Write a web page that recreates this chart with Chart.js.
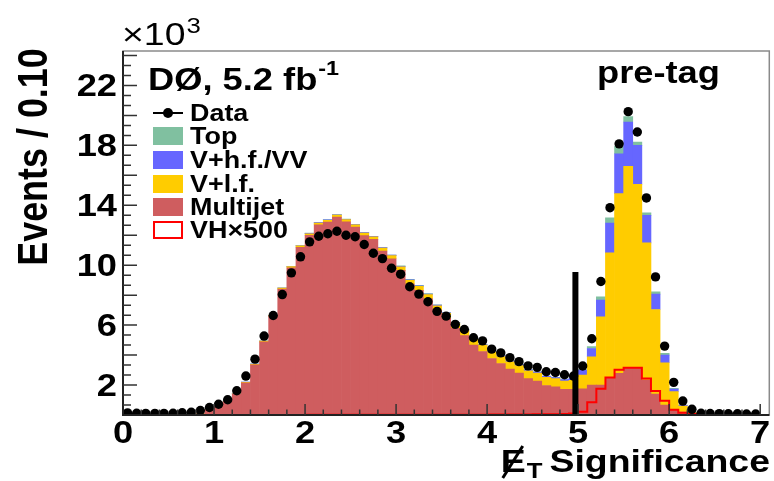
<!DOCTYPE html>
<html>
<head>
<meta charset="utf-8">
<script src="https://cdn.jsdelivr.net/npm/chart.js@4"></script>
<style>
  body { margin: 0; background: #fff; }
  #wrap { width: 774px; height: 481px; }
</style>
</head>
<body>
<div id="wrap"><canvas id="grafica" width="774" height="481"></canvas></div>
<script>
// bins de 0.1 entre 0 y 7 (70 bins), eventos en miles
var binWidth = 0.1;
var nBins = 70;

var data = [0.14, 0.12, 0.11, 0.11, 0.11, 0.12, 0.15, 0.18, 0.3, 0.5,
  0.72, 1.02, 1.62, 2.6, 3.73, 5.27, 6.64, 8.04, 9.49, 10.56,
  11.56, 11.93, 12.1, 12.27, 12.0, 11.9, 11.38, 10.8, 10.44, 9.8,
  9.4, 8.56, 8.07, 7.56, 6.92, 6.6, 6.05, 5.71, 5.16, 4.95,
  4.4, 4.15, 3.83, 3.56, 3.28, 3.18, 2.89, 2.84, 2.69, 2.6,
  3.27, 5.09, 8.91, 13.84, 18.1, 20.25, 18.89, 14.49, 9.22, 4.6,
  2.18, 0.93, 0.38, 0.12, 0.1, 0.09, 0.08, 0.08, 0.07, 0.07];

var multijet = [0, 0, 0, 0, 0, 0, 0.01, 0.03, 0.08, 0.33,
  0.56, 0.9, 1.39, 2.15, 3.35, 4.88, 6.58, 8.4, 9.82, 11.2,
  12.0, 12.7, 12.88, 13.21, 12.9, 12.54, 11.98, 11.72, 10.95, 10.43,
  9.66, 8.74, 8.32, 7.75, 6.98, 6.45, 5.78, 5.3, 4.67, 4.24,
  3.77, 3.44, 3.07, 2.8, 2.43, 2.27, 1.97, 1.88, 1.71, 1.72,
  1.75, 2.0, 2.0, 2.44, 2.78, 3.11, 3.18, 2.33, 1.4, 0.67,
  0.38, 0.2, 0.08, 0.03, 0.01, 0.01, 0.01, 0.01, 0.01, 0.01];

var vlf = [0, 0, 0, 0, 0, 0, 0, 0, 0.01, 0.01,
  0.02, 0.02, 0.03, 0.03, 0.04, 0.05, 0.06, 0.07, 0.08, 0.09,
  0.1, 0.11, 0.12, 0.13, 0.14, 0.15, 0.16, 0.17, 0.19, 0.21,
  0.23, 0.25, 0.27, 0.29, 0.31, 0.33, 0.35, 0.37, 0.39, 0.42,
  0.44, 0.46, 0.48, 0.5, 0.52, 0.53, 0.54, 0.55, 0.56, 0.6,
  0.92, 1.89, 4.56, 8.38, 12.0, 13.49, 12.22, 9.16, 5.64, 2.82,
  1.18, 0.4, 0.08, 0.03, 0.01, 0.01, 0.01, 0.01, 0.01, 0.01];

var vhf = [0, 0, 0, 0, 0, 0, 0, 0, 0, 0,
  0.01, 0.01, 0.01, 0.01, 0.01, 0.01, 0.01, 0.01, 0.01, 0.01,
  0.03, 0.03, 0.03, 0.03, 0.03, 0.03, 0.03, 0.03, 0.03, 0.03,
  0.04, 0.04, 0.04, 0.04, 0.04, 0.04, 0.04, 0.04, 0.04, 0.04,
  0.06, 0.06, 0.06, 0.06, 0.06, 0.07, 0.07, 0.07, 0.1, 0.14,
  0.33, 0.55, 1.11, 2.0, 2.66, 2.96, 2.6, 1.84, 1.03, 0.51,
  0.17, 0.05, 0.02, 0, 0, 0, 0, 0, 0, 0];

var top_ = [0, 0, 0, 0, 0, 0, 0, 0, 0, 0,
  0.01, 0.01, 0.01, 0.01, 0.01, 0.01, 0.01, 0.01, 0.01, 0.01,
  0.01, 0.01, 0.01, 0.01, 0.01, 0.01, 0.01, 0.01, 0.01, 0.01,
  0.02, 0.02, 0.02, 0.02, 0.02, 0.02, 0.02, 0.02, 0.02, 0.02,
  0.02, 0.02, 0.02, 0.02, 0.02, 0.02, 0.02, 0.02, 0.02, 0.02,
  0.03, 0.12, 0.22, 0.34, 0.49, 0.37, 0.22, 0.16, 0.15, 0.11,
  0.05, 0.02, 0, 0, 0, 0, 0, 0, 0, 0];

var vh500 = [0, 0, 0, 0, 0, 0, 0, 0, 0, 0,
  0, 0, 0, 0, 0, 0, 0, 0, 0, 0,
  0.01, 0.01, 0.01, 0.01, 0.01, 0.01, 0.01, 0.01, 0.01, 0.01,
  0.02, 0.02, 0.02, 0.02, 0.02, 0.02, 0.02, 0.02, 0.02, 0.02,
  0.03, 0.03, 0.03, 0.03, 0.03, 0.05, 0.05, 0.05, 0.07, 0.1,
  0.22, 0.85, 1.75, 2.5, 3.02, 3.15, 3.15, 2.44, 1.6, 0.95,
  0.35, 0.15, 0.06, 0.02, 0, 0, 0, 0, 0, 0];

var xTickLabels = ["0", "1", "2", "3", "4", "5", "6", "7"];
var yTickLabels = [2, 6, 10, 14, 18, 22];
var corte = 4.97; // linea de corte
var corteAlto = 9.55;

var FUENTE = '"Liberation Sans", Arial, Helvetica, sans-serif';

function binCentro(i) { return (i + 0.5) * binWidth; }

function puntos(arr) {
  var out = [];
  for (var i = 0; i < arr.length; i++) out.push({ x: binCentro(i), y: arr[i] });
  return out;
}

// contorno de histograma para VH x500
function contorno(arr) {
  var out = [];
  for (var i = 0; i < arr.length; i++) {
    out.push({ x: i * binWidth, y: arr[i] });
    out.push({ x: (i + 1) * binWidth, y: arr[i] });
  }
  out.push({ x: 7.1, y: 0 });
  return out;
}

function texto(ctx, str, x, y, font, align, sx) {
  ctx.save();
  ctx.translate(x, y);
  ctx.scale(sx || 1, 1);
  ctx.font = font;
  ctx.textAlign = align || "left";
  ctx.textBaseline = "alphabetic";
  ctx.fillStyle = "#000";
  ctx.fillText(str, 0, 0);
  ctx.restore();
}

function ancho(ctx, str, font, sx) {
  ctx.save();
  ctx.font = font;
  var w = ctx.measureText(str).width * (sx || 1);
  ctx.restore();
  return w;
}

var decoracion = {
  id: "decoracion",
  afterDraw: function (chart) {
    var ctx = chart.ctx;
    var xs = chart.scales.x;
    var ys = chart.scales.y;
    var a = chart.chartArea;
    var SX = 1.17;

    // marco
    ctx.save();
    ctx.strokeStyle = "#8a8a8a";
    ctx.lineWidth = 1.5;
    ctx.strokeRect(a.left, a.top, a.right - a.left, a.bottom - a.top);
    ctx.strokeStyle = "#222";
    ctx.lineWidth = 2;
    ctx.beginPath();
    ctx.moveTo(a.left, a.top);
    ctx.lineTo(a.left, a.bottom);
    ctx.lineTo(a.right, a.bottom);
    ctx.stroke();

    // ticks eje x
    ctx.lineWidth = 1.5;
    ctx.strokeStyle = "#333";
    ctx.beginPath();
    for (var k = 1; k <= 35; k++) {
      var px = xs.getPixelForValue(k * 0.2);
      var len = (k % 5 === 0) ? 11 : 5.5;
      ctx.moveTo(px, a.bottom);
      ctx.lineTo(px, a.bottom - len);
    }
    // ticks eje y
    for (var j = 1; j <= 36; j++) {
      var py = ys.getPixelForValue(j * 2 / 3);
      var l = (j % 3 === 0) ? 14 : 8;
      ctx.moveTo(a.left, py);
      ctx.lineTo(a.left + l, py);
    }
    ctx.stroke();
    ctx.restore();

    var fTick = "bold 31px " + FUENTE;
    for (var t = 0; t < xTickLabels.length; t++) {
      texto(ctx, xTickLabels[t], xs.getPixelForValue(parseFloat(xTickLabels[t])), 443, fTick, "center", SX);
    }
    for (var s = 0; s < yTickLabels.length; s++) {
      texto(ctx, String(yTickLabels[s]), 117, ys.getPixelForValue(yTickLabels[s]) + 11, fTick, "right", SX);
    }

    // x10^3
    texto(ctx, "\u00d710", 122, 45, "32px " + FUENTE, "left", SX);
    var w10 = ancho(ctx, "\u00d710", "32px " + FUENTE, SX);
    texto(ctx, "3", 122 + w10 + 1, 33, "22px " + FUENTE, "left", SX);

    // titulo eje y
    ctx.save();
    ctx.translate(47, 157);
    ctx.rotate(-Math.PI / 2);
    ctx.scale(0.855, 1);
    ctx.font = "bold 42px " + FUENTE;
    ctx.textAlign = "center";
    ctx.fillStyle = "#000";
    ctx.fillText("Events / 0.10", 0, 0);
    ctx.restore();

    // titulo eje x
    var fTit = "bold 32px " + FUENTE;
    var wSig = ancho(ctx, "Significance", fTit, SX);
    var xSig = 770 - wSig;
    texto(ctx, "Significance", xSig, 472, fTit, "left", SX);
    var fSub = "bold 22px " + FUENTE;
    var wT = ancho(ctx, "T", fSub, SX);
    texto(ctx, "T", xSig - 7 - wT, 478, fSub, "left", SX);
    var wE = ancho(ctx, "E", fTit, SX);
    var xE = xSig - 7 - wT - wE - 1;
    texto(ctx, "E", xE, 472, fTit, "left", SX);
    ctx.save();
    ctx.strokeStyle = "#000";
    ctx.lineWidth = 3;
    ctx.beginPath();
    ctx.moveTo(xE + 2, 478);
    ctx.lineTo(xE + wE - 3, 446);
    ctx.stroke();
    ctx.restore();

    // textos del experimento
    var fBig = "bold 31px " + FUENTE;
    texto(ctx, "D\u00d8, 5.2 fb", 148, 90, fBig, "left", SX);
    var wD = ancho(ctx, "D\u00d8, 5.2 fb", fBig, SX);
    texto(ctx, "-1", 148 + wD + 1, 75, "bold 20px " + FUENTE, "left", SX);
    texto(ctx, "pre-tag", 597, 83, fBig, "left", SX);

    // leyenda
    var fLeg = "bold 23px " + FUENTE;
    var filas = [
      { txt: "Data", y: 113, tipo: "data" },
      { txt: "Top", y: 136, color: "#80c0a0" },
      { txt: "V+h.f./VV", y: 160, color: "#6666ff" },
      { txt: "V+l.f.", y: 184, color: "#ffcc00" },
      { txt: "Multijet", y: 207, color: "#cf5d5f" },
      { txt: "VH\u00d7500", y: 230, tipo: "linea" }
    ];
    ctx.save();
    filas.forEach(function (f) {
      if (f.tipo === "data") {
        ctx.strokeStyle = "#000";
        ctx.lineWidth = 2;
        ctx.beginPath();
        ctx.moveTo(153, f.y);
        ctx.lineTo(183, f.y);
        ctx.stroke();
        ctx.fillStyle = "#000";
        ctx.beginPath();
        ctx.arc(168, f.y, 5, 0, Math.PI * 2);
        ctx.fill();
      } else if (f.tipo === "linea") {
        ctx.fillStyle = "#fff";
        ctx.fillRect(154, f.y - 8, 28, 16);
        ctx.strokeStyle = "#ff0000";
        ctx.lineWidth = 2;
        ctx.strokeRect(154, f.y - 8, 28, 16);
      } else {
        ctx.fillStyle = f.color;
        ctx.fillRect(153, f.y - 9, 30, 18);
      }
      texto(ctx, f.txt, 190, f.y + 8, fLeg, "left", SX);
    });
    ctx.restore();
  }
};

var barra = function (label, arr, color) {
  return {
    type: "bar",
    label: label,
    data: puntos(arr),
    backgroundColor: color,
    borderWidth: 0,
    barPercentage: 1.0,
    categoryPercentage: 1.0,
    order: 10
  };
};

var ctx = document.getElementById("grafica").getContext("2d");
var myChart = new Chart(ctx, {
  type: "bar",
  data: {
    datasets: [
      barra("Multijet", multijet, "#cf5d5f"),
      barra("V+l.f.", vlf, "#ffcc00"),
      barra("V+h.f./VV", vhf, "#6666ff"),
      barra("Top", top_, "#80c0a0"),
      {
        type: "line",
        label: "VHx500",
        data: contorno(vh500),
        borderColor: "#ff0000",
        borderWidth: 2,
        pointRadius: 0,
        fill: false,
        tension: 0,
        yAxisID: "y2",
        order: 3
      },
      {
        type: "line",
        label: "Data",
        data: puntos(data),
        showLine: false,
        pointRadius: 4.7,
        pointBackgroundColor: "#000",
        pointBorderColor: "#000",
        pointBorderWidth: 0,
        yAxisID: "y2",
        order: 2
      },
      {
        type: "line",
        label: "corte",
        data: [{ x: corte, y: 0 }, { x: corte, y: corteAlto }],
        borderColor: "#000",
        borderWidth: 6,
        pointRadius: 0,
        yAxisID: "y2",
        order: 1
      }
    ]
  },
  options: {
    responsive: false,
    animation: false,
    devicePixelRatio: 1,
    layout: { padding: { left: 123, right: 2, top: 51, bottom: 66 } },
    plugins: { legend: { display: false }, tooltip: { enabled: false } },
    scales: {
      x: { type: "linear", min: 0, max: 7.1, offset: false, stacked: true, display: false },
      y: { min: 0, max: 24.3, stacked: true, display: false },
      y2: { min: 0, max: 24.3, display: false }
    }
  },
  plugins: [decoracion]
});
</script>
</body>
</html>
